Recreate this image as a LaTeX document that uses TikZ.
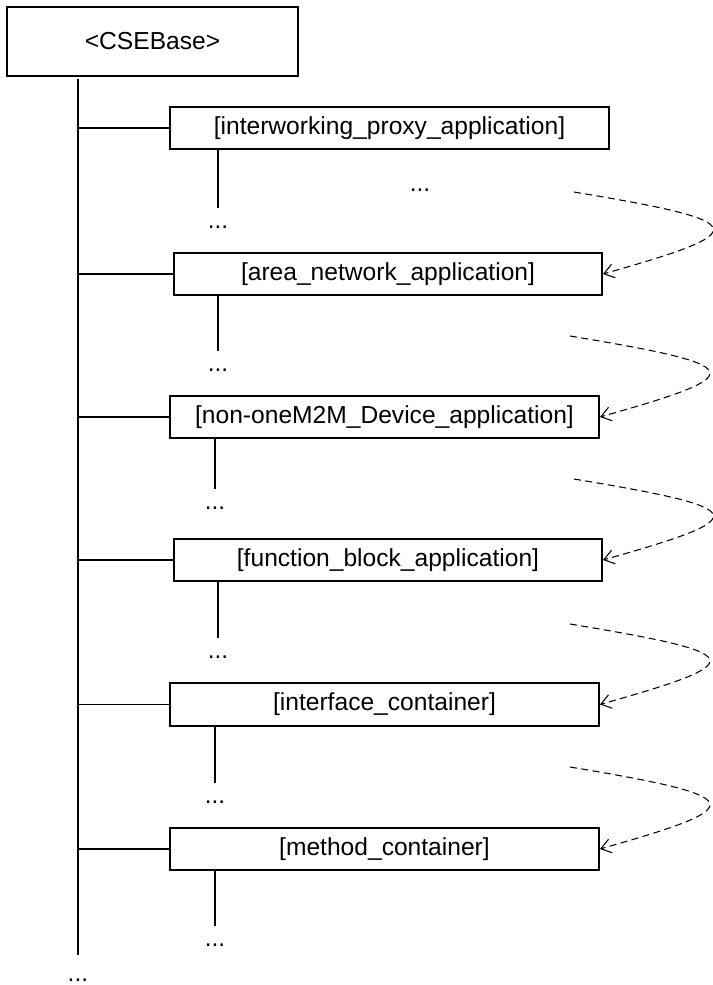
\documentclass[tikz,border=0pt]{standalone}
\usepackage{fontspec}
\setmainfont{Liberation Sans}
\usetikzlibrary{arrows.meta}
\tikzset{box/.style={draw,line width=1.1pt,minimum height=0.84cm,inner sep=2pt,font=\fontsize{14}{17}\selectfont},
  dots/.style={font=\fontsize{14}{17}\selectfont,inner sep=2pt},
  trunkline/.style={line width=1.1pt},
  link/.style={line width=1.1pt},
  child/.style={line width=0.6pt,shorten >=8pt},
  loopback/.style={dash pattern=on 4pt off 2.5pt,line width=0.6pt,-{Straight Barb[length=2mm,width=2.8mm]}}}
\begin{document}
\begin{tikzpicture}[x=0.02cm,y=-0.02cm]
\useasboundingbox (0,0) rectangle (713,985);
\node[box,minimum width=5.82cm,minimum height=1.38cm] (base) at (152.5,41.5) {<CSEBase>};
\node[box,minimum width=8.78cm] (ipe) at (389.5,128) {[interworking\_proxy\_application]};
\node[box,minimum width=8.56cm] (ana) at (388,274) {[area\_network\_application]};
\node[box,minimum width=8.58cm] (nda) at (384.5,417) {[non-oneM2M\_Device\_application]};
\node[box,minimum width=8.56cm] (fba) at (388,560) {[function\_block\_application]};
\node[box,minimum width=8.58cm,minimum height=0.86cm] (ifc) at (384.5,704.5) {[interface\_container]};
\node[box,minimum width=8.58cm] (mtc) at (384.5,849) {[method\_container]};
\node[dots] (dx) at (420,190) {...};
\node[dots] (dipe) at (218,227) {...};
\node[dots] (dana) at (218,370) {...};
\node[dots] (dnda) at (215,508) {...};
\node[dots] (dfba) at (218,657) {...};
\node[dots] (difc) at (215,802) {...};
\node[dots] (dmtc) at (215,945) {...};
\node[dots,inner sep=0.5pt] (dbase) at (78,980) {...};
\draw[trunkline,shorten <=1pt,shorten >=13pt] (base.south -| dbase) -- (dbase.north);
\foreach \b in {ipe,ana,nda,fba,ifc,mtc}
  \draw[link] (\b.west -| dbase) -- (\b.west);
\foreach \b in {ipe,ana,nda,fba,ifc,mtc}
  \draw[child] (\b.south -| d\b) -- (d\b.north);
\coordinate (s1) at (574,192);
\coordinate (s2) at (570,336);
\coordinate (s3) at (574,479);
\coordinate (s4) at (570,624);
\coordinate (s5) at (570,767);
\foreach \s/\b in {s1/ana,s2/nda,s3/fba,s4/ifc,s5/mtc}
  \draw[loopback] (\s) .. controls +(180,30) and +(152,-43) .. (\b.east);
\end{tikzpicture}
\end{document}
